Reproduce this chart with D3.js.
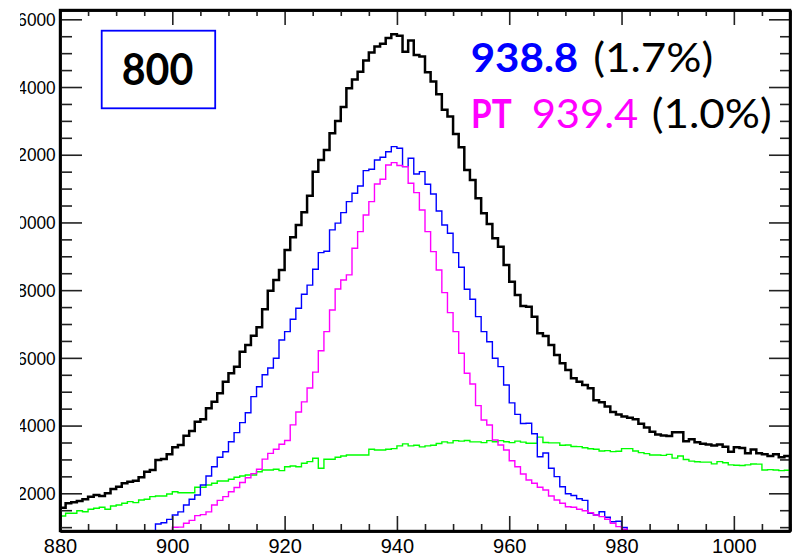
<!DOCTYPE html>
<html><head><meta charset="utf-8">
<script src="https://cdn.jsdelivr.net/npm/d3@7"></script>
<style>body{margin:0;background:#fff}svg{display:block}</style>
</head><body>
<svg id="chart" width="794" height="556"></svg>
<script>
// ---- data ----
const binStart = 880;
const binWidth = 1;
const blackCounts = [
 1575,1705,1734,1773,1823,1900,1950,1920,2000,2127,
 2195,2295,2343,2372,2473,2638,2688,2983,3013,3152,
 3359,3427,3702,3840,4115,4186,4511,4706,4954,5297,
 5545,5740,6183,6381,6656,6903,7435,7985,8301,8597,
 9187,9562,9926,10301,10791,11500,11846,12141,12634,13000,
 13410,13964,14220,14450,14780,15020,15200,15280,15450,15560,
 15518,15045,15371,14948,14900,14437,14160,13786,13329,13131,
 12614,12221,11550,11255,10714,10271,9955,9533,9285,8744,
 8251,7858,7533,7513,7217,6726,6646,6381,6085,5840,
 5642,5397,5297,5199,5101,4750,4690,4560,4400,4330,
 4270,4230,4186,4055,3945,3820,3740,3705,3690,3800,
 3800,3540,3595,3510,3460,3440,3410,3440,3377,3229,
 3360,3340,3182,3290,3182,3152,3100,3150,3063,3100];
const blueCounts = [
 0,0,0,0,0,0,0,0,0,0,
 0,0,0,0,0,0,0,1094,1130,1230,
 1359,1450,1654,1823,1950,2245,2511,2786,3063,3229,
 3524,3791,4086,4381,4854,5149,5500,5700,5988,6528,
 6776,7140,7465,7879,8150,8617,9108,9150,9780,9980,
 10289,10614,10862,11078,11530,11571,11846,11926,12090,12238,
 12190,11648,11896,11432,11500,11130,10840,10340,9926,9680,
 9108,8676,8027,7731,7217,6774,6478,5988,5740,5199,
 4670,4330,4060,4068,3760,3081,3190,2740,2491,2195,
 1985,1935,1837,1790,1409,1360,1456,1290,1161,1175,
 990,0,0,0,0,0,0,0,0,0,
 0,0,0,0,0,0,0,0,0,0,
 0,0,0,0,0,0,0,0,0,0];
const ptCounts = [
 0,0,0,0,0,0,0,0,0,0,
 0,0,0,0,0,0,0,0,0,0,
 996,1000,1114,1200,1340,1370,1450,1654,1790,1900,
 2047,2170,2320,2460,2580,2710,3010,3180,3300,3450,
 3560,4020,4400,4700,5110,5580,6212,6774,7415,8035,
 8300,8450,9237,9730,10222,10614,11136,11275,11698,11767,
 11680,11648,11157,10882,10369,9730,9138,8597,7928,7336,
 6774,6135,5545,5229,4590,4165,4018,3574,3427,3279,
 2963,2786,2570,2393,2295,2177,2097,1920,1802,1705,
 1604,1586,1527,1486,1427,1359,1310,1232,1114,1014,
 937,0,0,0,0,0,0,0,0,0,
 0,0,0,0,0,0,0,0,0,0,
 0,0,0,0,0,0,0,0,0,0];
const greenCounts = [
 1330,1409,1409,1486,1456,1527,1557,1586,1527,1625,
 1654,1705,1753,1724,1802,1823,1900,1920,1920,1979,
 2047,2018,2018,2018,2177,2177,2245,2295,2363,2363,
 2413,2473,2511,2541,2541,2638,2688,2688,2708,2668,
 2786,2806,2786,2885,2934,3034,2738,3004,3004,3063,
 3102,3131,3131,3131,3131,3300,3279,3279,3300,3320,
 3400,3460,3400,3420,3370,3400,3420,3470,3520,3490,
 3554,3540,3560,3520,3520,3495,3554,3524,3554,3524,
 3495,3540,3510,3477,3477,3660,3500,3490,3490,3420,
 3427,3380,3377,3345,3315,3300,3250,3259,3230,3240,
 3320,3320,3250,3200,3170,3130,3130,3120,3150,3040,
 3100,3000,2950,2930,2920,2920,2870,2934,2900,2840,
 2830,2820,2840,2865,2860,2690,2700,2690,2670,2680];
const xDomain = [880, 1010];
const yDomain = [886, 16275];
const xMajorTicks = [880, 900, 920, 940, 960, 980, 1000];
const yMajorTicks = [2000, 4000, 6000, 8000, 10000, 12000, 14000, 16000];
const boxLabel = "800";
const line1 = [{t: "938.8", c: "#0000ff", b: true}, {t: "(1.7%)", c: "#000", b: false}];
const line2 = [{t: "PT", c: "#ff00ff", b: true}, {t: "939.4", c: "#ff00ff", b: false}, {t: "(1.0%)", c: "#000", b: false}];

// ---- layout ----
const L = 60, R = 790, T = 10, B = 531;
const svg = d3.select("#chart");
const x = d3.scaleLinear().domain(xDomain).range([L, R]);
const y = d3.scaleLinear().domain(yDomain).range([B, T]).clamp(true);

const xMinor = d3.range(xDomain[0], xDomain[1] + 0.001, 5).filter(v => !xMajorTicks.includes(v));
const yMinor = d3.range(1000, 16001, 500).filter(v => !yMajorTicks.includes(v));

svg.append("defs").append("clipPath").attr("id", "plot")
  .append("rect").attr("x", L).attr("y", T).attr("width", R - L).attr("height", B - T);
svg.select("defs").append("clipPath").attr("id", "lab")
  .append("rect").attr("x", 20).attr("y", 0).attr("width", 40).attr("height", 556);

// ---- histograms ----
function histPath(counts) {
  const pts = [[x(binStart), B]];
  counts.forEach((v, i) => pts.push([x(binStart + i * binWidth), y(v)]));
  pts.push([x(binStart + counts.length * binWidth), y(counts[counts.length - 1])]);
  pts.push([x(binStart + counts.length * binWidth), B]);
  return d3.line().curve(d3.curveStepAfter)(pts);
}
const g = svg.append("g").attr("clip-path", "url(#plot)");
[[blackCounts, "#000", 2.5], [greenCounts, "#00ff00", 1.4], [blueCounts, "#0000ff", 1.4], [ptCounts, "#ff00ff", 1.4]]
  .forEach(([c, col, w]) => g.append("path").attr("d", histPath(c)).attr("fill", "none")
    .attr("stroke", col).attr("stroke-width", w).attr("stroke-linejoin", "miter"));

// ---- axes ----
function styleAxis(sel) {
  sel.selectAll(".tick line").attr("stroke", "#222").attr("stroke-width", 1.6);
  sel.select(".domain").attr("stroke", "#000").attr("stroke-width", 2.4);
}
const fontAxis = "'Liberation Sans', Arial, sans-serif";
// bottom
const gb = svg.append("g").attr("transform", `translate(0,${B})`)
  .call(d3.axisBottom(x).tickValues(xMajorTicks).tickSize(-15).tickSizeOuter(0).tickPadding(7.5).tickFormat(d3.format("d")));
gb.selectAll("text").attr("font-family", fontAxis).attr("font-size", 20).attr("fill", "#000");
styleAxis(gb);
const gbm = svg.append("g").attr("transform", `translate(0,${B})`)
  .call(d3.axisBottom(x).tickValues(xMinor).tickSize(-7).tickSizeOuter(0).tickFormat(""));
styleAxis(gbm);
// top
const gt = svg.append("g").attr("transform", `translate(0,${T})`)
  .call(d3.axisTop(x).tickValues(xMajorTicks).tickSize(-15).tickSizeOuter(0).tickFormat(""));
styleAxis(gt);
const gtm = svg.append("g").attr("transform", `translate(0,${T})`)
  .call(d3.axisTop(x).tickValues(xMinor).tickSize(-6).tickSizeOuter(0).tickFormat(""));
styleAxis(gtm);
// left
const gl = svg.append("g").attr("transform", `translate(${L},0)`)
  .call(d3.axisLeft(y).tickValues(yMajorTicks).tickSize(-22).tickSizeOuter(0).tickPadding(4.3).tickFormat(d3.format("d")));
gl.selectAll("text").attr("font-family", fontAxis).attr("font-size", 19).attr("fill", "#000")
  .attr("clip-path", null)
  .each(function (d) { d3.select(this).attr("textLength", String(d).length * 9.6).attr("lengthAdjust", "spacingAndGlyphs"); });
styleAxis(gl);
// clip the labels on the left (reference is cut at the left edge)
gl.selectAll(".tick text").each(function () {
  const t = this; const p = t.parentNode;
});
const glm = svg.append("g").attr("transform", `translate(${L},0)`)
  .call(d3.axisLeft(y).tickValues(yMinor).tickSize(-12).tickSizeOuter(0).tickFormat(""));
styleAxis(glm);
// right
const gr = svg.append("g").attr("transform", `translate(${R},0)`)
  .call(d3.axisRight(y).tickValues(yMajorTicks).tickSize(-21).tickSizeOuter(0).tickFormat(""));
styleAxis(gr);
const grm = svg.append("g").attr("transform", `translate(${R},0)`)
  .call(d3.axisRight(y).tickValues(yMinor).tickSize(-10).tickSizeOuter(0).tickFormat(""));
styleAxis(grm);

// move y labels into a clipped group
const labG = svg.append("g").attr("clip-path", "url(#lab)");
gl.selectAll(".tick").each(function (d) {
  const txt = d3.select(this).select("text");
  labG.append("text").attr("x", L - 4.3).attr("y", y(d)).attr("dy", "0.35em")
    .attr("text-anchor", "end").attr("font-family", fontAxis).attr("font-size", 19)
    .attr("textLength", String(d).length * 9.6).attr("lengthAdjust", "spacingAndGlyphs")
    .text(String(d));
  txt.remove();
});

// frame lines
svg.append("rect").attr("x", L).attr("y", T).attr("width", R - L).attr("height", B - T)
  .attr("fill", "none").attr("stroke", "#000").attr("stroke-width", 2.4);

// ---- annotations ----
const fontTxt = "Lato, 'Open Sans', sans-serif";
svg.append("rect").attr("x", 101.7).attr("y", 30.7).attr("width", 113.5).attr("height", 77.6)
  .attr("fill", "#fff").attr("stroke", "#0000ff").attr("stroke-width", 1.8);
svg.append("text").attr("x", 121.7).attr("y", 85).attr("font-family", fontTxt).attr("font-weight", "bold")
  .attr("font-size", 44).attr("textLength", 71.6).attr("lengthAdjust", "spacingAndGlyphs").text(boxLabel);

const l1pos = [[470.7, 107.6], [593.3, 120]];
line1.forEach((p, i) => svg.append("text").attr("x", l1pos[i][0]).attr("y", 71.7)
  .attr("font-family", fontTxt).attr("font-weight", p.b ? "bold" : "normal").attr("font-size", 40)
  .attr("fill", p.c).attr("textLength", l1pos[i][1]).attr("lengthAdjust", "spacingAndGlyphs").text(p.t));
const l2pos = [[471, 40.7], [531.7, 106.6], [651.7, 120]];
line2.forEach((p, i) => svg.append("text").attr("x", l2pos[i][0]).attr("y", 128.3)
  .attr("font-family", fontTxt).attr("font-weight", p.b ? "bold" : "normal").attr("font-size", 40)
  .attr("fill", p.c).attr("textLength", l2pos[i][1]).attr("lengthAdjust", "spacingAndGlyphs").text(p.t));
</script>
</body></html>
